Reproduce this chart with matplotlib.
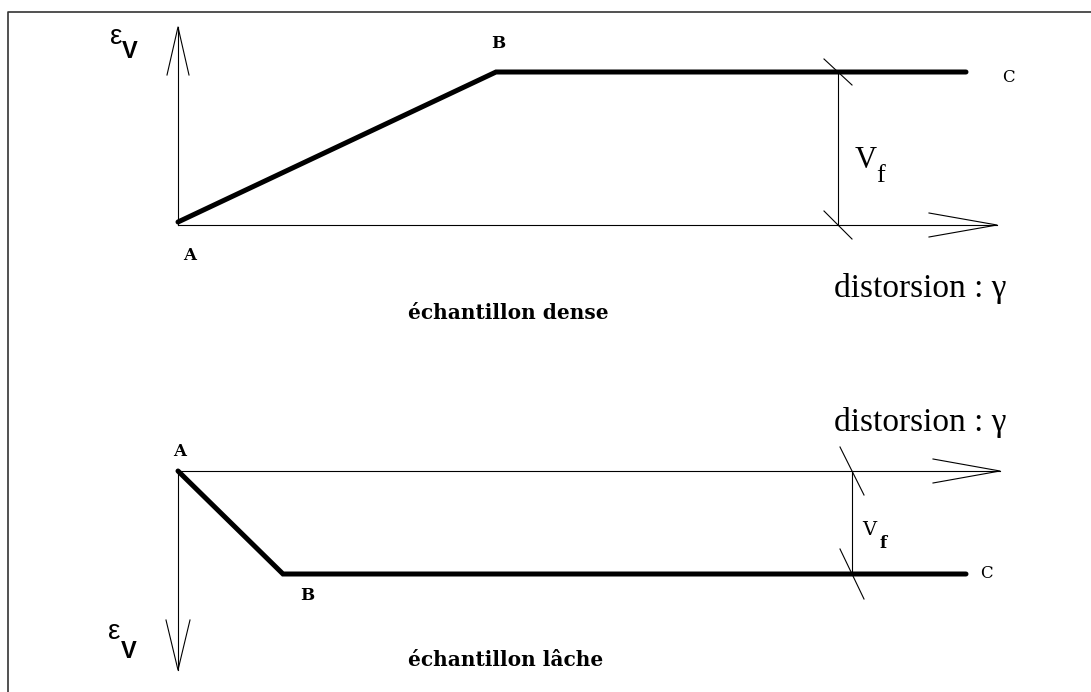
import matplotlib.pyplot as plt

# canvas in pixel units, y pointing down
W, H = 1091, 692

# curves A-B-C (dense and loose sample)
dense_x = [178, 496, 966]
dense_y = [222, 72, 72]
loose_x = [178, 283, 966]
loose_y = [471, 574, 574]

# axes: origin, x tip, y tip
top_origin = (178, 225)
top_xtip = 997
top_ytip = 27
bot_origin = (178, 471)
bot_xtip = 1000
bot_ytip = 670

# Vf measurement positions
top_vf_x = 838
bot_vf_x = 852


def open_arrow(ax, x0, y0, x1, y1, hl, hw):
    ax.plot([x0, x1], [y0, y1], color='black', lw=0.8)
    if x0 == x1:
        d = 1 if y1 > y0 else -1
        ax.plot([x1 - hw, x1, x1 + hw], [y1 - d * hl, y1, y1 - d * hl], color='black', lw=0.8)
    else:
        d = 1 if x1 > x0 else -1
        ax.plot([x1 - d * hl, x1, x1 - d * hl], [y1 - hw, y1, y1 + hw], color='black', lw=0.8)


def slash(ax, x, y, dx, dy):
    ax.plot([x - dx, x + dx], [y - dy, y + dy], color='black', lw=0.8)


fig = plt.figure(figsize=(10.91, 6.92), dpi=100)
ax = fig.add_axes([0, 0, 1, 1])
ax.set_xlim(0, W)
ax.set_ylim(H, 0)
ax.axis('off')

# frame (left and top only)
ax.plot([8, 8, W], [H, 12, 12], color='#333333', lw=1.2)

serif = 'Liberation Serif'
bserif = 'DejaVu Serif'
sans = 'Liberation Sans'

# ---- top: dense sample ----
open_arrow(ax, top_origin[0], top_origin[1], top_origin[0], top_ytip, 48, 11)
open_arrow(ax, top_origin[0], top_origin[1], top_xtip, top_origin[1], 68, 12)
ax.plot(dense_x, dense_y, color='black', lw=3.6, solid_capstyle='round', solid_joinstyle='miter')
ax.plot([top_vf_x, top_vf_x], [dense_y[-1], top_origin[1]], color='black', lw=0.8)
slash(ax, top_vf_x, dense_y[-1], 14, 13)
slash(ax, top_vf_x, top_origin[1], 14, 14)

ax.text(110, 37, 'ε', family=sans, fontsize=20, ha='left', va='center')
ax.text(122, 52, 'V', family=sans, fontsize=17, fontweight='bold', ha='left', va='center')
ax.text(190, 256, 'A', family=bserif, fontsize=12, fontweight='bold', ha='center', va='center')
ax.text(498, 44, 'B', family=bserif, fontsize=12, fontweight='bold', ha='center', va='center')
ax.text(1008, 78, 'C', family=bserif, fontsize=12, ha='center', va='center')
ax.text(855, 160, 'V', family=serif, fontsize=22, ha='left', va='center')
ax.text(876, 176, 'f', family=serif, fontsize=19, ha='left', va='center')
ax.text(834, 288, 'distorsion : γ', family=serif, fontsize=24, ha='left', va='center')
ax.text(408, 313, 'échantillon dense', family=bserif, fontsize=14.5, fontweight='bold',
        ha='left', va='center')

# ---- bottom: loose sample ----
open_arrow(ax, bot_origin[0], bot_origin[1], bot_xtip, bot_origin[1], 67, 12)
open_arrow(ax, bot_origin[0], bot_origin[1], bot_origin[0], bot_ytip, 50, 12)
ax.plot(loose_x, loose_y, color='black', lw=3.6, solid_capstyle='round', solid_joinstyle='miter')
ax.plot([bot_vf_x, bot_vf_x], [bot_origin[1], loose_y[-1]], color='black', lw=0.8)
slash(ax, bot_vf_x, bot_origin[1], 12, 24)
slash(ax, bot_vf_x, loose_y[-1], 12, 25)

ax.text(108, 632, 'ε', family=sans, fontsize=20, ha='left', va='center')
ax.text(121, 651, 'V', family=sans, fontsize=17, fontweight='bold', ha='left', va='center')
ax.text(180, 452, 'A', family=bserif, fontsize=12, fontweight='bold', ha='center', va='center')
ax.text(307, 596, 'B', family=bserif, fontsize=12, fontweight='bold', ha='center', va='center')
ax.text(986, 574, 'C', family=bserif, fontsize=12, ha='center', va='center')
ax.text(862, 530, 'V', family=bserif, fontsize=14, ha='left', va='center')
ax.text(880, 544, 'f', family=bserif, fontsize=12, fontweight='bold', ha='left', va='center')
ax.text(834, 422, 'distorsion : γ', family=serif, fontsize=24, ha='left', va='center')
ax.text(408, 660, 'échantillon lâche', family=bserif, fontsize=14.5, fontweight='bold',
        ha='left', va='center')

fig.savefig('out.png', dpi=100)
